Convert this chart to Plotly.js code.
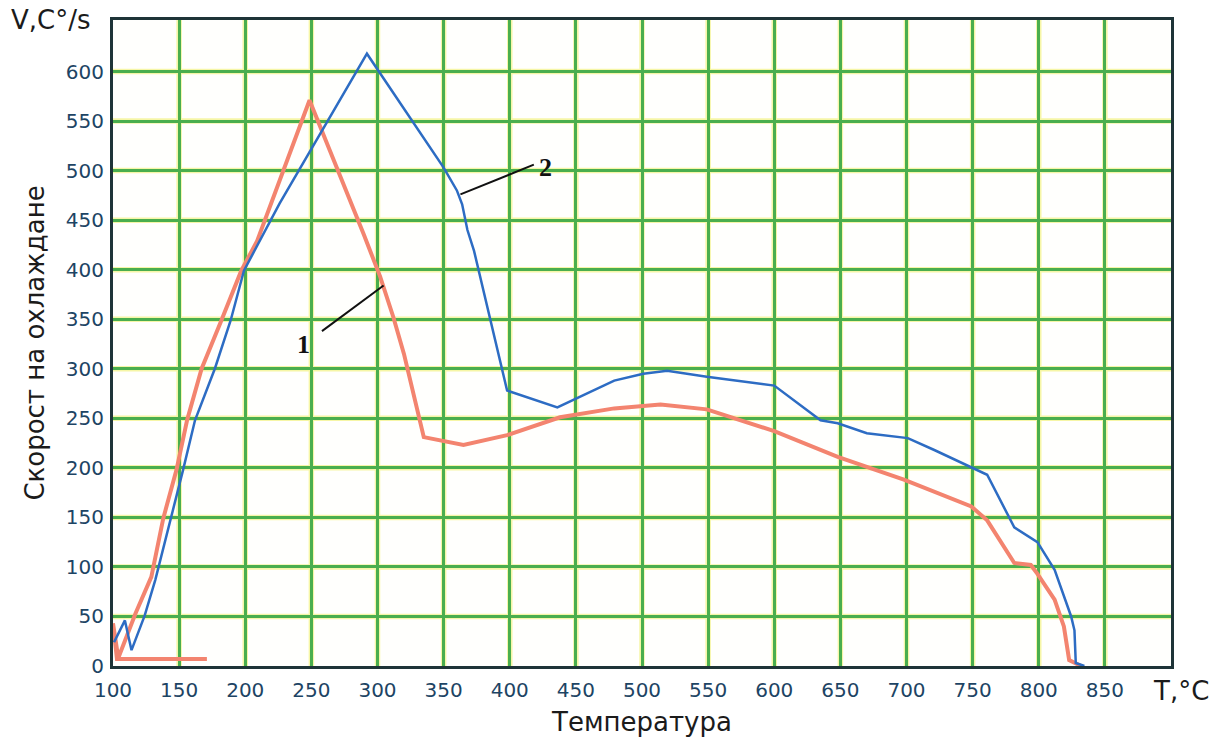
<!DOCTYPE html>
<html>
<head>
<meta charset="utf-8">
<script src="https://cdn.plot.ly/plotly-3.0.1.min.js"></script>
<style>
  html, body { margin: 0; padding: 0; background: #ffffff; }
  #chart { width: 1215px; height: 751px; }
</style>
</head>
<body>
<div id="chart"></div>
<script>
// Cooling rate vs temperature, curves 1 and 2
const curve1T = [171, 103, 100, 104, 117, 129, 138, 148, 156, 167, 182, 197, 209, 248.6, 289.5, 302, 312, 320, 335, 365, 398, 438, 479, 514, 549, 575, 600, 648, 698, 749, 761, 781.5, 794, 799, 812, 819, 823, 832];
const curve1V = [7, 7, 43, 8, 53, 90, 149, 198, 248, 300, 349, 399, 429, 571, 436, 393, 352, 315, 231, 223, 233, 251, 260, 264, 259, 248, 237, 211, 188, 161, 147, 104, 102, 93, 67, 40, 6, 0];

const curve2T = [100.8, 109, 114, 124, 132, 144, 153, 162, 177, 189, 199, 226, 250, 292, 350, 360, 364, 368, 373, 385, 398, 436, 479, 501, 519, 549, 600, 635, 648, 670, 701, 721, 749, 761, 781.5, 799, 812, 824.5, 827, 828, 834.5];
const curve2V = [24, 46, 16, 51, 87, 149, 198, 248, 300, 349, 399, 467, 522, 618, 503, 480, 466, 440, 419, 352, 278, 261, 288, 295, 298, 292, 283, 248, 245, 235, 230, 218, 201, 193, 140, 125, 97, 50, 36, 3, 0];

const xTicks = [100, 150, 200, 250, 300, 350, 400, 450, 500, 550, 600, 650, 700, 750, 800, 850];
const yTicks = [0, 50, 100, 150, 200, 250, 300, 350, 400, 450, 500, 550, 600];
const xRange = [100, 900];
const yRange = [0, 652];

// curve labels: text position and leader line (from curve to label)
const labelText = ['1', '2'];
const labelT = [244, 427];
const labelV = [324, 503];
const leaderFromT = [304.6, 362.7];
const leaderFromV = [384, 476];
const leaderToT = [258, 418.2];
const leaderToV = [338, 506];

const tickColor = '#1d4464';
const textColor = '#1b1b1b';
const gridGreen = '#4aae4e';
const gridHalo = '#f6f6a6';

const traces = [
  { x: curve1T, y: curve1V, mode: 'lines', line: { color: '#f3846f', width: 4 }, hoverinfo: 'skip' },
  { x: curve2T, y: curve2V, mode: 'lines', line: { color: '#2d6cc3', width: 2.5 }, hoverinfo: 'skip' }
];

const shapes = [];
// faint yellow edge under every grid line
xTicks.filter(v => v > xRange[0]).forEach(v => shapes.push({
  type: 'line', xref: 'x', yref: 'paper', x0: v, x1: v, y0: 0, y1: 1,
  layer: 'below', line: { color: gridHalo, width: 5.5 }
}));
yTicks.filter(v => v > yRange[0]).forEach(v => shapes.push({
  type: 'line', xref: 'paper', yref: 'y', x0: 0, x1: 1, y0: v, y1: v,
  layer: 'below', line: { color: gridHalo, width: 5.5 }
}));
// leader lines of curve labels
for (let i = 0; i < labelText.length; i++) {
  shapes.push({
    type: 'line', xref: 'x', yref: 'y',
    x0: leaderFromT[i], y0: leaderFromV[i], x1: leaderToT[i], y1: leaderToV[i],
    layer: 'above', line: { color: '#111111', width: 2 }
  });
}

const annotations = labelText.map((t, i) => ({
  x: labelT[i], y: labelV[i], xref: 'x', yref: 'y', text: t, showarrow: false,
  font: { family: 'Liberation Serif', size: 26, color: '#111111', weight: 'bold' },
  xanchor: 'center', yanchor: 'middle'
}));
annotations.push({
  x: -0.098, y: 1.0, xref: 'paper', yref: 'paper', text: 'V,C°/s', showarrow: false,
  xanchor: 'left', yanchor: 'middle', font: { family: 'DejaVu Sans', size: 26, color: textColor }
});
annotations.push({
  x: 1.0, y: 0, xref: 'paper', yref: 'paper', text: 'T,°C', showarrow: false,
  xanchor: 'right', yanchor: 'top', xshift: 40, yshift: -8,
  font: { family: 'DejaVu Sans', size: 26, color: textColor }
});

const layout = {
  width: 1215, height: 751,
  margin: { l: 113, r: 44, t: 20, b: 85 },
  paper_bgcolor: '#ffffff', plot_bgcolor: '#fffffd',
  showlegend: false,
  xaxis: {
    range: xRange, tickvals: xTicks, ticktext: xTicks.map(String),
    showgrid: true, gridcolor: gridGreen, gridwidth: 3, zeroline: false,
    showline: true, linecolor: '#1e3438', linewidth: 3, mirror: true,
    ticks: '', ticklabelstandoff: 4,
    tickfont: { family: 'DejaVu Sans', size: 20, color: tickColor },
    title: { text: 'Температура', standoff: 12, font: { family: 'DejaVu Sans', size: 26, color: textColor } }
  },
  yaxis: {
    range: yRange, tickvals: yTicks, ticktext: yTicks.map(String),
    showgrid: true, gridcolor: gridGreen, gridwidth: 3, zeroline: false,
    showline: true, linecolor: '#1e3438', linewidth: 3, mirror: true,
    ticks: '', ticklabelstandoff: 2,
    tickfont: { family: 'DejaVu Sans', size: 20, color: tickColor },
    title: { text: 'Скорост на охлаждане', standoff: 14, font: { family: 'DejaVu Sans', size: 26, color: textColor } }
  },
  shapes: shapes,
  annotations: annotations
};

Plotly.newPlot('chart', traces, layout, { staticPlot: true, displayModeBar: false });
</script>
</body>
</html>
